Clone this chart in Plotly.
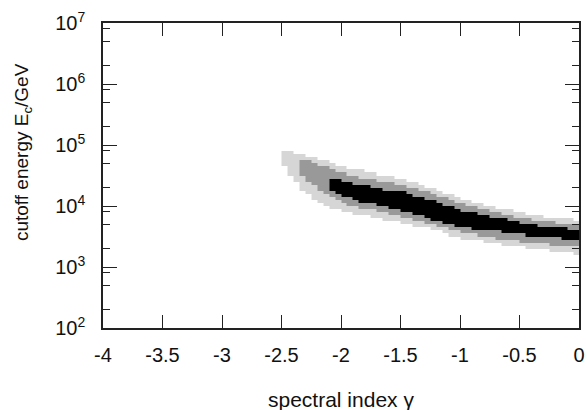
import numpy as np
import plotly.graph_objects as go

# spectral-index bins (left edges to right edges), width 0.05
gamma_edges = [round(-2.5 + 0.05 * i, 3) for i in range(51)]

# log10(E_c/GeV) boundaries of each confidence level per gamma column
light_top = [4.88, 4.88, 4.87, 4.85, 4.82, 4.79, 4.76, 4.73, 4.70, 4.67,
             4.64, 4.62, 4.60, 4.58, 4.56, 4.54, 4.52, 4.50, 4.48, 4.46,
             4.44, 4.41, 4.38, 4.35, 4.32, 4.29, 4.26, 4.22, 4.18, 4.15,
             4.12, 4.09, 4.07, 4.05, 4.02, 4.00, 3.97, 3.95, 3.93, 3.91,
             3.89, 3.87, 3.85, 3.84, 3.82, 3.81, 3.80, 3.79, 3.78, 3.76]
light_bot = [4.66, 4.52, 4.38, 4.27, 4.18, 4.11, 4.05, 4.00, 3.97, 3.94,
             3.91, 3.89, 3.87, 3.85, 3.83, 3.81, 3.79, 3.77, 3.75, 3.73,
             3.71, 3.69, 3.67, 3.65, 3.63, 3.61, 3.58, 3.55, 3.52, 3.49,
             3.47, 3.45, 3.44, 3.43, 3.41, 3.40, 3.38, 3.37, 3.35, 3.34,
             3.33, 3.31, 3.30, 3.29, 3.28, 3.27, 3.26, 3.25, 3.23, 3.21]
mid_top = [None, None, None, 4.76, 4.74, 4.71, 4.67, 4.63, 4.59, 4.56,
           4.53, 4.51, 4.49, 4.47, 4.45, 4.43, 4.41, 4.40, 4.38, 4.37,
           4.35, 4.32, 4.29, 4.26, 4.23, 4.20, 4.17, 4.13, 4.10, 4.07,
           4.04, 4.01, 3.99, 3.96, 3.94, 3.92, 3.89, 3.87, 3.85, 3.82,
           3.80, 3.78, 3.76, 3.75, 3.74, 3.73, 3.72, 3.71, 3.70, 3.69]
mid_bot = [None, None, None, 4.50, 4.42, 4.33, 4.26, 4.19, 4.13, 4.08,
           4.05, 4.02, 3.99, 3.97, 3.95, 3.93, 3.91, 3.88, 3.86, 3.84,
           3.82, 3.79, 3.76, 3.73, 3.71, 3.68, 3.66, 3.63, 3.60, 3.58,
           3.56, 3.55, 3.53, 3.52, 3.50, 3.49, 3.47, 3.46, 3.44, 3.43,
           3.42, 3.41, 3.40, 3.39, 3.38, 3.37, 3.36, 3.35, 3.34, 3.33]
dark_top = [None, None, None, None, None, None, None, None, 4.46, 4.44,
            4.42, 4.40, 4.37, 4.35, 4.33, 4.31, 4.29, 4.27, 4.26, 4.25,
            4.23, 4.20, 4.17, 4.14, 4.11, 4.09, 4.06, 4.02, 3.98, 3.95,
            3.92, 3.90, 3.88, 3.86, 3.84, 3.82, 3.80, 3.78, 3.76, 3.74,
            3.72, 3.70, 3.68, 3.67, 3.66, 3.65, 3.64, 3.63, 3.62, 3.61]
dark_bot = [None, None, None, None, None, None, None, None, 4.26, 4.20,
            4.16, 4.13, 4.10, 4.07, 4.05, 4.03, 4.01, 3.98, 3.96, 3.94,
            3.92, 3.89, 3.86, 3.83, 3.80, 3.77, 3.74, 3.72, 3.69, 3.66,
            3.64, 3.63, 3.62, 3.61, 3.60, 3.59, 3.58, 3.57, 3.56, 3.55,
            3.53, 3.52, 3.51, 3.50, 3.49, 3.49, 3.48, 3.47, 3.47, 3.46]

x_ticks = [-4, -3.5, -3, -2.5, -2, -1.5, -1, -0.5, 0]
x_tick_text = ["-4", "-3.5", "-3", "-2.5", "-2", "-1.5", "-1", "-0.5", "0"]
y_ticks = [1e2, 1e3, 1e4, 1e5, 1e6, 1e7]
y_tick_text = ["10<sup>2</sup>", "10<sup>3</sup>", "10<sup>4</sup>",
               "10<sup>5</sup>", "10<sup>6</sup>", "10<sup>7</sup>"]
y_minor = [m * 10 ** d for d in range(2, 7) for m in (2, 5, 8)]

# log10(E) bin edges, width 0.05 decade
loge_edges = np.round(np.arange(2.0, 7.0001, 0.05), 4)
loge_centers = 0.5 * (loge_edges[:-1] + loge_edges[1:])

z = []
for yc in loge_centers:
    row = []
    for i in range(len(light_top)):
        v = None
        if light_bot[i] <= yc <= light_top[i]:
            v = 1
        if mid_top[i] is not None and mid_bot[i] <= yc <= mid_top[i]:
            v = 2
        if dark_top[i] is not None and dark_bot[i] <= yc <= dark_top[i]:
            v = 3
        row.append(v)
    z.append(row)

fig = go.Figure(go.Heatmap(
    x=gamma_edges, y=[10 ** e for e in loge_edges], z=z,
    zmin=0.5, zmax=3.5, showscale=False, hoverinfo="skip",
    colorscale=[[0, "#d6d6d6"], [1 / 3, "#d6d6d6"], [1 / 3, "#999999"],
                [2 / 3, "#999999"], [2 / 3, "#000000"], [1, "#000000"]],
))

axis_common = dict(showline=True, linecolor="#222222", linewidth=1.6,
                   mirror="ticks", ticks="inside", tickwidth=1.3,
                   tickcolor="#222222", showgrid=False, zeroline=False,
                   automargin=False,
                   tickfont=dict(size=20, color="#111111"))

fig.update_xaxes(range=[-4, 0], tickvals=x_ticks, ticktext=x_tick_text,
                 ticklen=13, ticklabelstandoff=8, **axis_common)
fig.update_yaxes(type="log", range=[2, 7], tickvals=y_ticks, ticktext=y_tick_text,
                 ticklen=14, ticklabelstandoff=12,
                 minor=dict(tickvals=y_minor, ticklen=7, ticks="inside",
                            tickwidth=1.3, tickcolor="#222222", showgrid=False),
                 **axis_common)

fig.add_annotation(text="spectral index γ",
                   xref="paper", yref="paper", x=0.5, y=-0.233,
                   xanchor="center", yanchor="middle", showarrow=False,
                   font=dict(size=21, color="#111111"))
fig.add_annotation(text="cutoff energy E<sub>c</sub>/GeV", textangle=-90,
                   xref="paper", yref="paper", x=-0.168, y=0.577,
                   xanchor="center", yanchor="middle", showarrow=False,
                   font=dict(size=19, color="#111111"))

fig.update_layout(width=588, height=410,
                  margin=dict(l=103, r=9, t=23, b=82),
                  paper_bgcolor="white", plot_bgcolor="white",
                  font=dict(family="Liberation Sans, Arial, sans-serif"))

fig.write_html("out.html", config={"displayModeBar": False},
               post_script="document.body.style.margin='0';document.body.style.padding='0';")
